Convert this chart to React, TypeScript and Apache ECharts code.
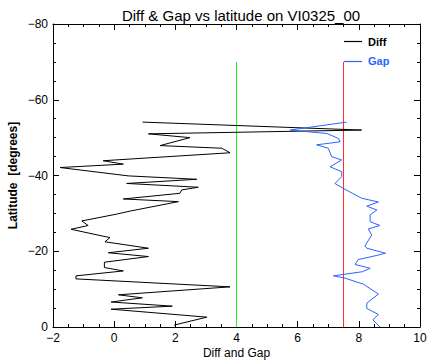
import React, { useEffect, useRef } from 'react';
import * as echarts from 'echarts';

const TITLE = 'Diff & Gap vs latitude on VI0325_00';
const X_NAME = 'Diff and Gap';
const Y_NAME = 'Latitude  [degrees]';

// Diff series (black): x values and latitudes, from the bottom upwards
const diffX = [1.96, 3.03, -0.10, 1.90, -0.10, 0.92, 0.14, 3.79, -1.25, -1.25, 0.30, -0.32, -0.32, 1.12, -0.19, 1.12, -0.30, -0.14, -1.41, -0.85, -1.06, 0.08, 0.52, 2.10, 0.30, 2.15, 2.21, 2.75, 0.41, 2.70, 0.46, -1.77, 0.30, -0.36, 3.79, 3.52, 1.50, 2.48, 1.12, 8.09, 0.93];
const diffLat = [-0.5, -2.6, -4.7, -5.5, -6.6, -7.7, -8.5, -10.6, -12.7, -13.5, -14.8, -15.7, -17.1, -18.6, -19.6, -20.8, -22.5, -23.6, -25.8, -26.8, -28.0, -29.8, -30.6, -33.1, -33.8, -35.3, -36.2, -36.9, -37.9, -39.0, -39.9, -42.1, -43.0, -43.9, -46.0, -47.2, -47.9, -50.0, -51.0, -52.0, -54.1];

// Gap series (blue): x values and latitudes, from the top downwards
const gapX = [7.60, 5.75, 6.95, 7.33, 7.39, 6.62, 7.00, 7.11, 7.44, 7.06, 7.44, 7.44, 7.22, 7.49, 8.09, 8.64, 8.26, 8.59, 8.37, 8.37, 8.69, 8.31, 8.42, 8.20, 8.26, 8.87, 8.59, 7.98, 7.88, 8.37, 8.12, 7.17, 7.55, 8.15, 8.64, 8.26, 8.26, 8.64, 8.46, 8.69];
const gapLat = [-54.1, -52.0, -51.1, -49.8, -48.9, -48.1, -47.2, -45.0, -44.1, -42.3, -41.0, -39.7, -37.9, -36.6, -34.0, -33.0, -31.9, -30.9, -29.6, -27.8, -26.8, -25.9, -24.3, -21.4, -20.8, -19.5, -18.9, -17.8, -16.5, -15.5, -14.6, -13.5, -12.9, -11.3, -8.7, -6.3, -4.9, -3.3, -1.9, 0.0];

// Reference lines
const greenLineX = [4, 4];
const greenLineLat = [0, -70];
const redLineX = [7.5, 7.5];
const redLineLat = [0, -70];

const xMin = -2, xMax = 10, xStep = 2;
const yMin = -80, yMax = 0, yStep = 20;

const legendNames = ['Diff', 'Gap'];
const legendColors = ['#000000', '#2b63ff'];

const zip = (xs: number[], ys: number[]) => xs.map((x, i) => [x, ys[i]]);
const fmt = (v: number) => (v < 0 ? '\u2212' + Math.abs(v) : String(v));

export default function App() {
  const ref = useRef<HTMLDivElement>(null);
  useEffect(() => {
    if (!ref.current) return;
    const chart = echarts.init(ref.current, null, { renderer: 'svg' });
    const font = 'Liberation Sans, Arial, sans-serif';
    const axisCommon = {
      type: 'value' as const,
      axisLine: { show: true, onZero: false, lineStyle: { color: '#000', width: 1 } },
      axisTick: { show: true, inside: true, length: 6, lineStyle: { color: '#000' } },
      minorTick: { show: true, splitNumber: 4, length: 3, lineStyle: { color: '#000' } },
      splitLine: { show: false },
      minorSplitLine: { show: false },
    };
    chart.setOption({
      animation: false,
      backgroundColor: '#fff',
      title: {
        text: TITLE,
        left: 236,
        textAlign: 'center',
        top: 0,
        textStyle: { fontFamily: font, fontSize: 15, fontWeight: 'normal', color: '#000', lineHeight: 20 },
      },
      grid: { left: 53, right: 7, top: 24, bottom: 33, containLabel: false, outerBoundsMode: 'none' },
      xAxis: [
        {
          ...axisCommon,
          min: xMin, max: xMax, interval: xStep,
          position: 'bottom',
          name: X_NAME,
          nameLocation: 'middle',
          nameGap: 20,
          nameMoveOverlap: false,
          nameTextStyle: { fontFamily: font, fontSize: 12, color: '#000' },
          axisLabel: { fontFamily: font, fontSize: 12, color: '#000', margin: 5, formatter: fmt },
        },
        {
          ...axisCommon,
          min: xMin, max: xMax, interval: xStep,
          position: 'top',
          axisLabel: { show: false },
        },
      ],
      yAxis: [
        {
          ...axisCommon,
          min: yMin, max: yMax, interval: yStep,
          inverse: true,
          position: 'left',
          name: Y_NAME,
          nameLocation: 'middle',
          nameRotate: 90,
          nameGap: 34,
          nameMoveOverlap: false,
          nameTextStyle: { fontFamily: font, fontSize: 12, fontWeight: 'bold', color: '#000' },
          axisLabel: { fontFamily: font, fontSize: 12, color: '#000', margin: 5, formatter: fmt },
        },
        {
          ...axisCommon,
          min: yMin, max: yMax, interval: yStep,
          inverse: true,
          position: 'right',
          axisLabel: { show: false },
        },
      ],
      series: [
        {
          type: 'line', name: 'green', data: zip(greenLineX, greenLineLat),
          showSymbol: false, lineStyle: { color: '#22ee22', width: 1 }, silent: true, z: 1,
        },
        {
          type: 'line', name: 'red', data: zip(redLineX, redLineLat),
          showSymbol: false, lineStyle: { color: '#ff2a2a', width: 1 }, silent: true, z: 1,
        },
        {
          type: 'line', name: legendNames[0], data: zip(diffX, diffLat),
          showSymbol: false, lineStyle: { color: legendColors[0], width: 1 }, silent: true, z: 2,
        },
        {
          type: 'line', name: legendNames[1], data: zip(gapX, gapLat),
          showSymbol: false, lineStyle: { color: legendColors[1], width: 1 }, silent: true, z: 2,
        },
      ],
      graphic: [
        { type: 'line', shape: { x1: 344, y1: 41.5, x2: 362, y2: 41.5 }, style: { stroke: legendColors[0], lineWidth: 1.2 } },
        { type: 'text', x: 368, y: 41.5, style: { text: legendNames[0], fill: legendColors[0], font: `bold 11px ${font}`, verticalAlign: 'middle' } },
        { type: 'line', shape: { x1: 344, y1: 61.5, x2: 362, y2: 61.5 }, style: { stroke: legendColors[1], lineWidth: 1.2 } },
        { type: 'text', x: 368, y: 60.5, style: { text: legendNames[1], fill: legendColors[1], font: `bold 11px ${font}`, verticalAlign: 'middle' } },
      ],
    });
    return () => chart.dispose();
  }, []);
  return <div ref={ref} style={{ width: 427, height: 360, position: 'absolute', left: 0, top: 0 }} />;
}
